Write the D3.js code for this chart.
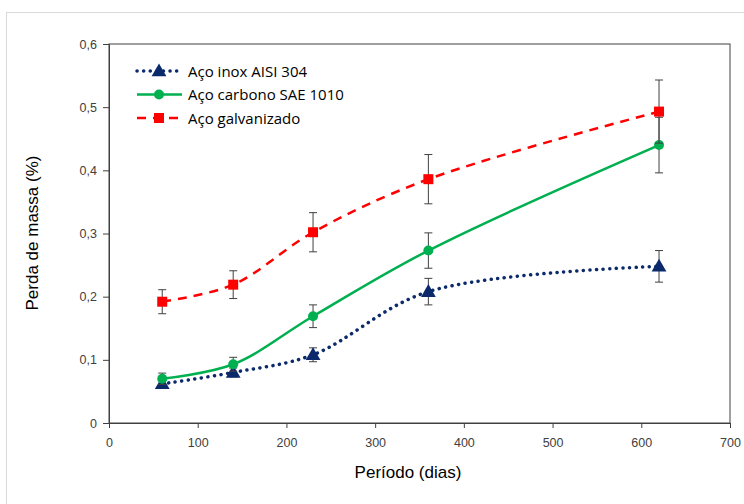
<!DOCTYPE html>
<html><head><meta charset="utf-8">
<script src="https://cdn.jsdelivr.net/npm/d3@7"></script>
<style>body{margin:0;background:#fff}</style>
</head><body>
<svg id="c" width="744" height="504"></svg>
<script>
const days = [60, 140, 230, 360, 620];
const inox = [0.062, 0.080, 0.108, 0.208, 0.248];
const inoxErr = [0.006, 0.007, 0.011, 0.021, 0.025];
const carbono = [0.070, 0.093, 0.169, 0.273, 0.440];
const carbonoErr = [0.009, 0.011, 0.018, 0.028, 0.044];
const galv = [0.192, 0.219, 0.302, 0.386, 0.493];
const galvErr = [0.019, 0.022, 0.031, 0.039, 0.050];
const xTicks = [0, 100, 200, 300, 400, 500, 600, 700];
const yTicks = [0, 0.1, 0.2, 0.3, 0.4, 0.5, 0.6];
const names = ["Aço inox AISI 304", "Aço carbono SAE 1010", "Aço galvanizado"];

const svg = d3.select("#c");
const font = "'Liberation Sans', Arial, sans-serif";
svg.append("rect").attr("x",6.5).attr("y",12.5).attr("width",760).attr("height",520)
  .attr("fill","none").attr("stroke","#d9d9d9");

const x = d3.scaleLinear().domain([0,700]).range([109,730]);
const y = d3.scaleLinear().domain([0,0.6]).range([423,44]);

svg.append("rect").attr("x",109).attr("y",44).attr("width",621).attr("height",379)
  .attr("fill","none").attr("stroke","#404040").attr("stroke-width",1);

const gx = svg.append("g").attr("transform","translate(0,423)")
  .call(d3.axisBottom(x).tickValues(xTicks).tickSize(5).tickPadding(10).tickFormat(d3.format("d")));
const gy = svg.append("g").attr("transform","translate(109,0)")
  .call(d3.axisLeft(y).tickValues(yTicks).tickSize(6).tickPadding(6).tickFormat(d => d===0 ? "0" : d3.format(".1f")(d).replace(".", ",")));
[gx,gy].forEach(g=>{
  g.selectAll("path,line").attr("stroke","#404040");
  g.selectAll("text").attr("font-family",font).attr("font-size",12.5).attr("fill","#404040");
});

svg.append("text").attr("x",408).attr("y",478).attr("text-anchor","middle")
  .attr("font-family",font).attr("font-size",17).attr("fill","#000").text("Período (dias)");
svg.append("text").attr("transform","translate(38,233) rotate(-90)").attr("text-anchor","middle")
  .attr("font-family",font).attr("font-size",17).attr("fill","#000").text("Perda de massa (%)");

const series = [
  {v: inox, e: inoxErr, color:"#0b2a6b", dash:"0.1,6.5", cap:"round", w:3.5, m:"tri"},
  {v: carbono, e: carbonoErr, color:"#00b050", dash:null, cap:"butt", w:2.5, m:"circ"},
  {v: galv, e: galvErr, color:"#ff0000", dash:"9,7", cap:"butt", w:2.5, m:"sq"}
];
const line = d3.line().x((d,i)=>x(days[i])).y(d=>y(d)).curve(d3.curveCatmullRom.alpha(0.5));

function marker(g, m, color, cx, cy){
  if(m==="tri") g.append("path").attr("d", d3.symbol().type(d3.symbolTriangle).size(95)())
      .attr("transform",`translate(${cx},${cy+1})`).attr("fill",color);
  else if(m==="circ") g.append("circle").attr("cx",cx).attr("cy",cy).attr("r",5).attr("fill",color);
  else g.append("rect").attr("x",cx-5).attr("y",cy-5).attr("width",10).attr("height",10).attr("fill",color);
}

series.forEach(s=>{
  svg.append("path").datum(s.v).attr("d",line).attr("fill","none").attr("stroke",s.color)
    .attr("stroke-width",s.w).attr("stroke-dasharray",s.dash).attr("stroke-linecap",s.cap);
});
series.forEach(s=>{
  const g = svg.append("g");
  s.v.forEach((v,i)=>{
    const cx = x(days[i]);
    g.append("line").attr("x1",cx).attr("x2",cx).attr("y1",y(v-s.e[i])).attr("y2",y(v+s.e[i])).attr("stroke","#404040");
    [v-s.e[i], v+s.e[i]].forEach(t=>g.append("line").attr("x1",cx-4).attr("x2",cx+4).attr("y1",y(t)).attr("y2",y(t)).attr("stroke","#404040"));
    marker(g, s.m, s.color, cx, y(v));
  });
});

series.forEach((s,i)=>{
  const ly = 71 + i*23.5;
  svg.append("line").attr("x1",137).attr("x2",182).attr("y1",ly).attr("y2",ly)
    .attr("stroke",s.color).attr("stroke-width",s.w).attr("stroke-dasharray",s.dash).attr("stroke-linecap",s.cap);
  marker(svg, s.m, s.color, 159, ly);
  svg.append("text").attr("x",188).attr("y",ly+5.5).attr("font-family","'Open Sans', 'Noto Sans', sans-serif")
    .attr("font-size",15).attr("fill","#000").text(names[i]);
});
</script>
</body></html>
